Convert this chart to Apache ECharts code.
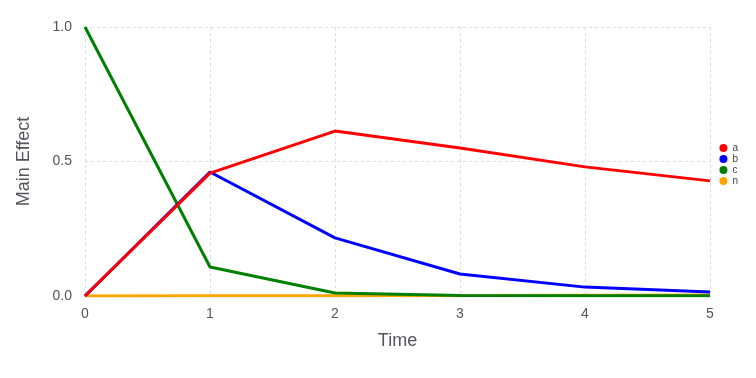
<!DOCTYPE html>
<html><head><meta charset="utf-8">
<script src="https://cdn.jsdelivr.net/npm/echarts@6/dist/echarts.min.js"></script>
<style>html,body{margin:0;padding:0;background:#fff}#c{width:756px;height:378px}</style>
</head><body><div id="c"></div>
<script>
const times = [0, 1, 2, 3, 4, 5];
const seriesNames = ['a', 'b', 'c', 'n'];
const seriesColors = ['#ff0000', '#0000ff', '#008000', '#ffa500'];
const aVals = [0, 0.457, 0.613, 0.550, 0.480, 0.428];
const bVals = [0, 0.461, 0.216, 0.082, 0.033, 0.015];
const cVals = [1.0, 0.108, 0.011, 0.002, 0.001, 0.0005];
const nVals = [0, 0.0005, 0.001, 0.002, 0.003, 0.004];
const allVals = [aVals, bVals, cVals, nVals];

const chart = echarts.init(document.getElementById('c'));
const gridLine = {show: true, lineStyle: {color: '#dcdce4', type: [3, 3], width: 1}};
const txt = '#58535c';
chart.setOption({
  animation: false,
  grid: {left: 85, right: 46, top: 27, bottom: 82},
  legend: {
    orient: 'vertical', right: 13, top: 138,
    itemWidth: 8, itemHeight: 8, itemGap: 1, icon: 'circle',
    textStyle: {fontSize: 10, color: '#444', fontFamily: 'Liberation Sans'},
    data: seriesNames
  },
  xAxis: {
    type: 'value', min: 0, max: 5, interval: 1,
    name: 'Time', nameLocation: 'middle', nameGap: 36,
    nameTextStyle: {fontSize: 18, color: txt, fontFamily: 'Liberation Sans'},
    axisLine: {show: false}, axisTick: {show: false},
    axisLabel: {fontSize: 14, color: txt, margin: 11, fontFamily: 'Liberation Sans'},
    splitLine: gridLine
  },
  yAxis: {
    type: 'value', min: 0, max: 1, interval: 0.5,
    name: 'Main Effect', nameLocation: 'middle', nameGap: 52,
    nameTextStyle: {fontSize: 18, color: txt, fontFamily: 'Liberation Sans'},
    axisLine: {show: false}, axisTick: {show: false},
    axisLabel: {fontSize: 14, color: txt, margin: 13, fontFamily: 'Liberation Sans',
      formatter: v => v.toFixed(1)},
    splitLine: gridLine
  },
  series: seriesNames.map((n, i) => ({
    name: n, type: 'line', showSymbol: false, symbol: 'circle',
    color: seriesColors[i],
    lineStyle: {width: 3, color: seriesColors[i]},
    data: times.map((t, j) => [t, allVals[i][j]]),
    z: 10 - i
  }))
});
</script></body></html>
